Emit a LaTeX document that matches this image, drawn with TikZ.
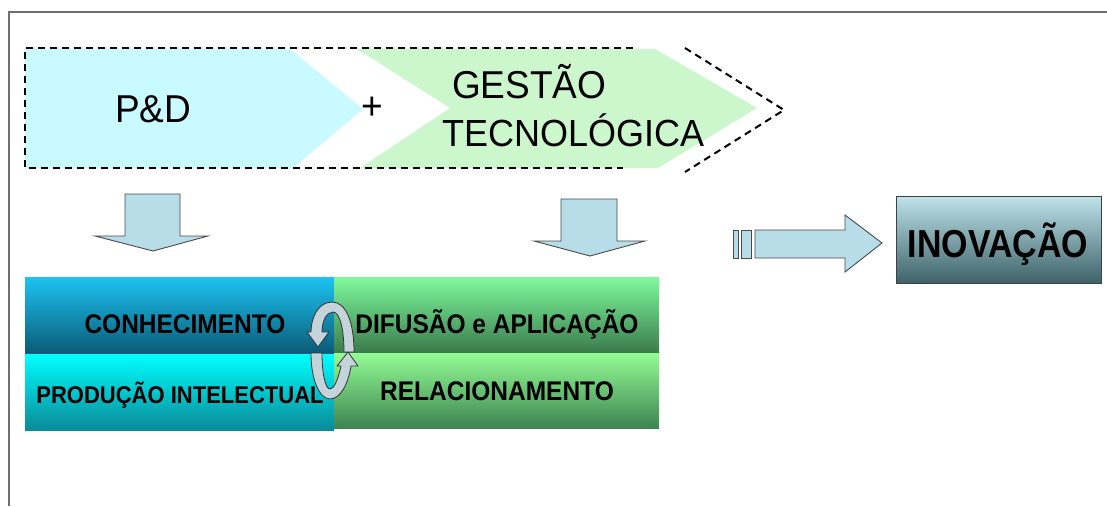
\documentclass[tikz,border=0pt]{standalone}
\usepackage{fontspec}
\setmainfont{Liberation Sans}
\definecolor{cyanfill}{HTML}{C8FAFF}
\definecolor{greenfill}{HTML}{CCF7CC}
\definecolor{arrowfill}{HTML}{B7DDE8}
\definecolor{arrowline}{HTML}{4A4A4A}
\definecolor{loopfill}{HTML}{C5D3DA}
\definecolor{framegray}{HTML}{707070}
\tikzset{
  dashline/.style={draw=black, line width=2pt, dash pattern=on 7pt off 5pt},
  blockarrow/.style={fill=arrowfill, draw=arrowline, line width=0.9pt, line join=miter},
  bigtext/.style={font=\fontsize{37}{40}\selectfont, inner sep=0pt, yscale=1.05},
  boxtext/.style={font=\bfseries\fontsize{24.5}{26}\selectfont, inner sep=0pt, anchor=base, yscale=1.1},
  looparrow/.style={fill=loopfill, draw=black!80, line width=0.8pt, line join=round}
}
\begin{document}
\begin{tikzpicture}[x=1pt,y=-1pt]
\useasboundingbox (0,0) rectangle (1107,506);
\fill[white] (0,0) rectangle (1107,506);
\draw[framegray, line width=1.5pt] (9,506) -- (9,12) -- (1107,12);

% chevrons
\fill[cyanfill] (25,49) -- (290,49) -- (363,109) -- (293,168) -- (25,168) -- cycle;
\fill[greenfill] (357,49) -- (655,49) -- (757,108) -- (658,168) -- (360,168) -- (450,108) -- cycle;
\draw[dashline] (633,48) -- (25,48) -- (25,168) -- (623,168);
\draw[dashline] (685,48) -- (784,110) -- (685,172);

\node[bigtext, anchor=base west] (pd) at (115,122) {P\&D};
\node[bigtext] (plus) at (372,108) {+};
\node[bigtext, anchor=base west] (gestao) at (452,98) {GESTÃO};
\node[bigtext, anchor=base west, font=\fontsize{36}{40}\selectfont] (tecno) at (442,146) {TECNOLÓGICA};

% down arrows
\filldraw[blockarrow] (125,194) -- (180,194) -- (180,236) -- (208,236) -- (153,251) -- (95,236) -- (125,236) -- cycle;
\filldraw[blockarrow] (561,199) -- (617,199) -- (617,241) -- (645,241) -- (590,256) -- (534,241) -- (561,241) -- cycle;

% right arrow
\filldraw[blockarrow] (733,230) rectangle (738,258);
\filldraw[blockarrow] (741,230) rectangle (751,258);
\filldraw[blockarrow] (755,230) -- (845,230) -- (845,215) -- (882,243) -- (845,272) -- (845,258) -- (755,258) -- cycle;

% INOVACAO box
\shade[top color={rgb,255:red,190;green,227;blue,234}, bottom color={rgb,255:red,61;green,98;blue,104}] (896,196) rectangle (1101,283);
\draw[draw=black!75, line width=1pt] (896,196) rectangle (1101,283);
\node[font=\bfseries\fontsize{39}{42}\selectfont, xscale=0.87, inner sep=0pt, anchor=base] (inov) at (998,257) {INOVAÇÃO};

% four boxes
\shade[top color={rgb,255:red,28;green,195;blue,242}, bottom color={rgb,255:red,10;green,90;blue,117}] (25,277) rectangle (334,354);
\shade[top color={rgb,255:red,0;green,255;blue,255}, bottom color={rgb,255:red,10;green,138;blue,152}] (25,354) rectangle (334,430);
\shade[top color={rgb,255:red,126;green,250;blue,156}, bottom color={rgb,255:red,58;green,122;blue,76}] (334,277) rectangle (659,353);
\shade[top color={rgb,255:red,148;green,252;blue,148}, bottom color={rgb,255:red,62;green,132;blue,82}] (334,353) rectangle (659,428);

% loop arrows
\filldraw[looparrow] (354,352) .. controls (354,322) and (346,302) .. (332,302)
  .. controls (318,302) and (311,318) .. (311,332) -- (307,332) -- (318,347) -- (329,332) -- (322,332)
  .. controls (322,320) and (327,312) .. (333,312)
  .. controls (340,312) and (344,330) .. (344,352) -- cycle;
\filldraw[looparrow] (311,353) .. controls (311,381) and (320,399) .. (330,399)
  .. controls (340,399) and (348,385) .. (351,366) -- (358,366) -- (348,352) -- (337,366) -- (341,366)
  .. controls (338,380) and (334,389) .. (330,389)
  .. controls (325,389) and (322,372) .. (322,353) -- cycle;

\node[boxtext] (conh) at (185,333) {CONHECIMENTO};
\node[boxtext, font=\bfseries\fontsize{22}{24}\selectfont] (prod) at (180,403) {PRODUÇÃO INTELECTUAL};
\node[boxtext] (difu) at (497,333) {DIFUSÃO e APLICAÇÃO};
\node[boxtext] (rela) at (497,400) {RELACIONAMENTO};
\end{tikzpicture}
\end{document}
